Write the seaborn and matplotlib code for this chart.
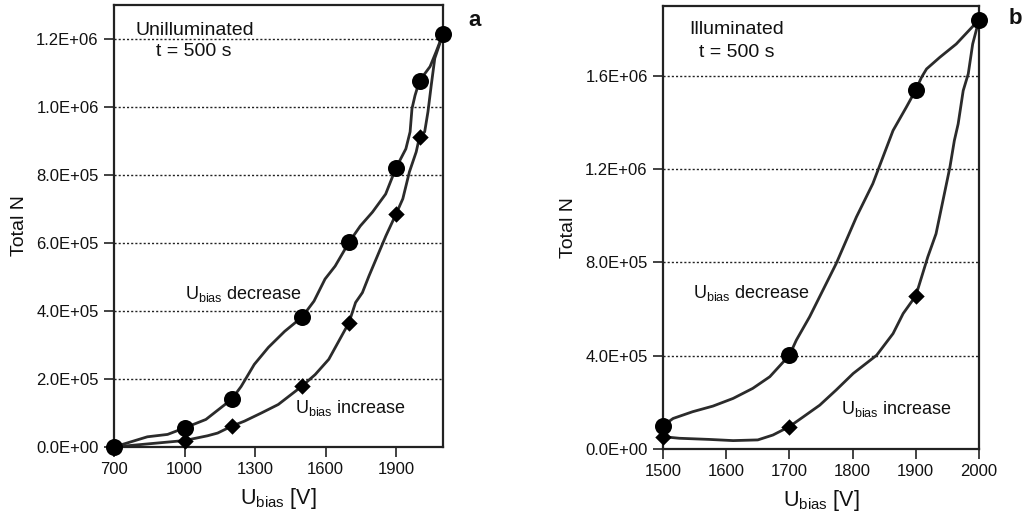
import numpy as np
import pandas as pd
import matplotlib
matplotlib.use("Agg")
import matplotlib.pyplot as plt
from matplotlib.ticker import FuncFormatter
import seaborn as sns

# ---------------- data ----------------
# Panel a: unilluminated, markers
a_volt = [700, 1000, 1200, 1500, 1700, 1900, 2000, 2100]
a_dec = [0, 56e3, 140e3, 382e3, 602e3, 821e3, 1.077e6, 1.215e6]
a_inc = [0, 19e3, 61e3, 179e3, 366e3, 685e3, 912e3, 1.215e6]
# Panel a: traced curve points
a_dec_curve_v = [700, 842, 928, 1000, 1091, 1200, 1241, 1297, 1357, 1426, 1500, 1551, 1598,
                 1641, 1700, 1748, 1800, 1856, 1900, 1942, 1960, 1968, 1981, 2000, 2045, 2071, 2100]
a_dec_curve_n = [0, 30e3, 37e3, 56e3, 81e3, 140e3, 178e3, 243e3, 293e3, 340e3, 382e3, 429e3, 494e3,
                 532e3, 602e3, 650e3, 691e3, 744e3, 821e3, 877e3, 927e3, 995e3, 1.034e6, 1.077e6,
                 1.119e6, 1.163e6, 1.215e6]
a_inc_curve_v = [700, 1000, 1098, 1141, 1200, 1255, 1327, 1399, 1500, 1556, 1614, 1700, 1728, 1757,
                 1785, 1821, 1857, 1900, 1929, 1957, 1986, 2000, 2022, 2036, 2050, 2065, 2100]
a_inc_curve_n = [0, 19e3, 33e3, 41e3, 61e3, 76e3, 100e3, 125e3, 179e3, 213e3, 258e3, 366e3, 425e3,
                 454e3, 503e3, 562e3, 621e3, 685e3, 730e3, 809e3, 868e3, 912e3, 927e3, 986e3,
                 1.064e6, 1.143e6, 1.215e6]

# Panel b: illuminated, markers
b_volt = [1500, 1700, 1900, 2000]
b_dec = [100e3, 402e3, 1.540e6, 1.841e6]
b_inc = [53e3, 96e3, 657e3, 1.841e6]
# Panel b: traced curve points
b_dec_curve_v = [1500, 1516, 1547, 1579, 1611, 1642, 1669, 1700, 1711, 1732, 1753, 1774, 1806,
                 1832, 1848, 1864, 1885, 1900, 1909, 1917, 1938, 1964, 2000]
b_dec_curve_n = [100e3, 131e3, 160e3, 184e3, 217e3, 260e3, 310e3, 402e3, 467e3, 567e3, 681e3,
                 795e3, 995e3, 1.138e6, 1.252e6, 1.366e6, 1.466e6, 1.540e6, 1.594e6, 1.630e6,
                 1.680e6, 1.737e6, 1.841e6]
b_inc_curve_v = [1500, 1526, 1574, 1611, 1650, 1674, 1700, 1722, 1748, 1774, 1801, 1838, 1864,
                 1880, 1900, 1919, 1932, 1943, 1954, 1961, 1967, 1975, 1983, 1990, 2000]
b_inc_curve_n = [53e3, 46e3, 41e3, 36e3, 39e3, 60e3, 96e3, 138e3, 188e3, 253e3, 324e3, 402e3,
                 495e3, 581e3, 657e3, 824e3, 923e3, 1.066e6, 1.209e6, 1.323e6, 1.394e6, 1.537e6,
                 1.609e6, 1.737e6, 1.841e6]

a_xticks = [700, 1000, 1300, 1600, 1900]
a_yticks = [0, 2e5, 4e5, 6e5, 8e5, 1.0e6, 1.2e6]
b_xticks = [1500, 1600, 1700, 1800, 1900, 2000]
b_yticks = [0, 4e5, 8e5, 1.2e6, 1.6e6]

# ---------------- style ----------------
sns.set_theme(style="white")
plt.rcParams['font.family'] = ['Liberation Sans', 'DejaVu Sans']
plt.rcParams['mathtext.default'] = 'regular'

LINE = "#2b2b2b"
TXT = "#111111"
fig = plt.figure(figsize=(10.29, 5.12), dpi=100)
ax_a = fig.add_axes([114 / 1029, 65 / 512, 329 / 1029, 442 / 512])
ax_b = fig.add_axes([663 / 1029, 63 / 512, 316 / 1029, 443 / 512])

fmt = FuncFormatter(lambda v, p: f"{v:.1E}")


def draw(ax, dv, dn, iv, inn, mv, md, mi):
    sns.lineplot(x=dv, y=dn, ax=ax, sort=False, color=LINE, lw=2, estimator=None)
    sns.lineplot(x=iv, y=inn, ax=ax, sort=False, color=LINE, lw=2, estimator=None)
    sns.scatterplot(x=mv, y=md, ax=ax, marker="o", s=150, color="black", edgecolor="black",
                    linewidth=0, zorder=5, clip_on=False)
    sns.scatterplot(x=mv, y=mi, ax=ax, marker="D", s=70, color="black", edgecolor="black",
                    linewidth=0, zorder=5, clip_on=False)


draw(ax_a, a_dec_curve_v, a_dec_curve_n, a_inc_curve_v, a_inc_curve_n, a_volt, a_dec, a_inc)
draw(ax_b, b_dec_curve_v, b_dec_curve_n, b_inc_curve_v, b_inc_curve_n, b_volt, b_dec, b_inc)

ax_a.set_xlim(700, 2100)
ax_a.set_ylim(0, 1.3e6)
ax_a.set_xticks(a_xticks)
ax_a.set_yticks(a_yticks)
ax_b.set_xlim(1500, 2000)
ax_b.set_ylim(0, 1.9e6)
ax_b.set_xticks(b_xticks)
ax_b.set_yticks(b_yticks)

for ax in (ax_a, ax_b):
    ax.yaxis.set_major_formatter(fmt)
    ax.xaxis.set_major_formatter(FuncFormatter(lambda v, p: f"{int(v)}"))
    ax.grid(axis="y", linestyle=(0, (1.5, 1.5)), color="#222222", lw=1.0)
    ax.grid(axis="x", visible=False)
    for s in ax.spines.values():
        s.set_color("#222222")
        s.set_linewidth(1.6)
        s.set_visible(True)
    ax.tick_params(axis="both", direction="out", length=7.5, width=1.2, color="#222222",
                   labelsize=12, labelcolor=TXT, pad=3.5, left=True, bottom=True)
    ax.set_ylabel("Total N", fontsize=14, color=TXT, labelpad=6)
    ax.set_xlabel(r"$U_{bias}$ [V]", fontsize=15.5, color=TXT, labelpad=6)

# annotations
ax_a.text(0.246, 0.943, "Unilluminated", transform=ax_a.transAxes, ha="center", va="center",
          fontsize=14, color=TXT)
ax_a.text(0.243, 0.894, "t = 500 s", transform=ax_a.transAxes, ha="center", va="center",
          fontsize=14, color=TXT)
ax_a.text(1250, 4.5e5, r"$U_{bias}$ decrease", ha="center", va="center", fontsize=13,
          color=TXT)
ax_a.text(1708, 1.15e5, r"$U_{bias}$ increase", ha="center", va="center", fontsize=13,
          color=TXT)

ax_b.text(0.234, 0.946, "Illuminated", transform=ax_b.transAxes, ha="center", va="center",
          fontsize=14, color=TXT)
ax_b.text(0.234, 0.896, "t = 500 s", transform=ax_b.transAxes, ha="center", va="center",
          fontsize=14, color=TXT)
ax_b.text(1640, 6.7e5, r"$U_{bias}$ decrease", ha="center", va="center", fontsize=13,
          color=TXT)
ax_b.text(1870, 1.72e5, r"$U_{bias}$ increase", ha="center", va="center", fontsize=13,
          color=TXT)

fig.text(475 / 1029, 1 - 20 / 512, "a", fontsize=16, fontweight="bold", ha="center",
         va="center", color=TXT)
fig.text(1015 / 1029, 1 - 18 / 512, "b", fontsize=16, fontweight="bold", ha="center",
         va="center", color=TXT)

fig.savefig("out.png", dpi=100)
